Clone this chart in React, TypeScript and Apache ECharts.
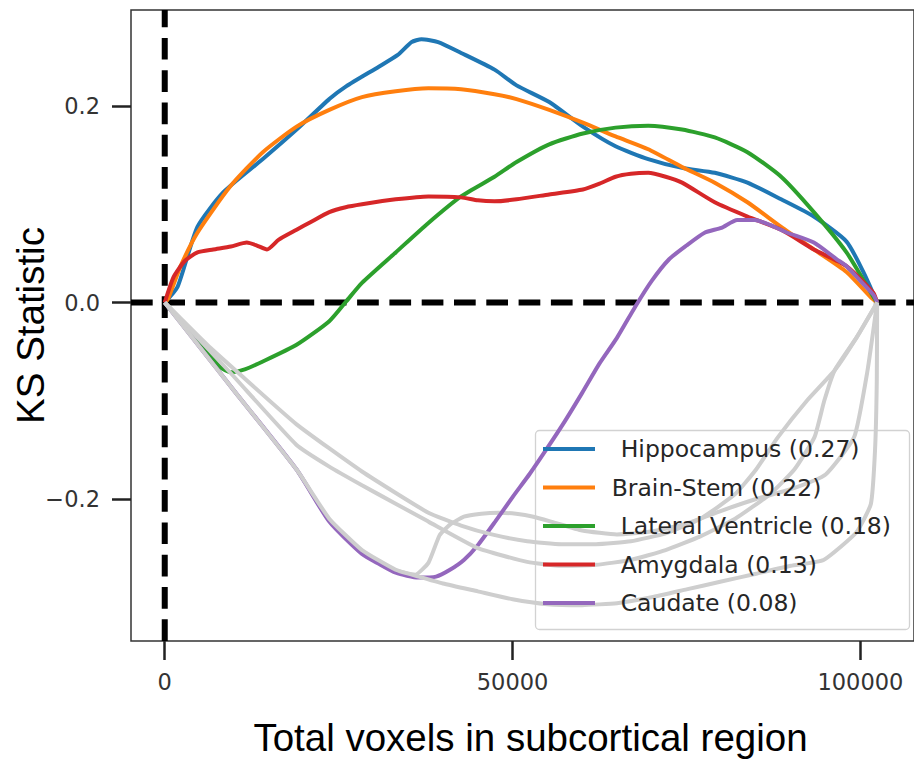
import React, { useEffect, useRef } from "react";
import * as echarts from "echarts";

// ---- data ----
const hippocampusX = [0, 1850, 4700, 8400, 14100, 18950, 23650, 26070, 30770, 33500, 35470, 36900, 39300, 42600, 47400, 50570, 55270, 60110, 64800, 69500, 74360, 79060, 83760, 88600, 93300, 98000, 100500, 102400];
const hippocampusY = [0, 0.016, 0.077, 0.112, 0.146, 0.176, 0.207, 0.22, 0.24, 0.252, 0.265, 0.268, 0.265, 0.254, 0.237, 0.221, 0.204, 0.179, 0.159, 0.146, 0.137, 0.132, 0.122, 0.105, 0.0875, 0.062, 0.03, 0];

const brainStemX = [0, 430, 2280, 4700, 9400, 14100, 18950, 23650, 28350, 33200, 37900, 42600, 47400, 50570, 55270, 60110, 64800, 69500, 74360, 79060, 83760, 88600, 93300, 98000, 101400, 102400];
const brainStemY = [0, 0.003, 0.037, 0.071, 0.118, 0.153, 0.179, 0.196, 0.209, 0.215, 0.218, 0.217, 0.212, 0.207, 0.196, 0.183, 0.169, 0.156, 0.138, 0.122, 0.102, 0.077, 0.054, 0.031, 0.006, 0];

const ventricleX = [0, 3000, 6100, 8000, 9400, 11500, 14100, 18950, 23650, 26070, 28350, 33200, 37900, 42600, 47400, 50570, 55270, 60110, 64800, 69500, 74360, 79060, 83760, 88600, 93300, 98000, 101850, 102400];
const ventricleY = [0, -0.025, -0.05, -0.066, -0.071, -0.068, -0.06, -0.043, -0.019, 0.001, 0.02, 0.051, 0.081, 0.108, 0.128, 0.143, 0.161, 0.172, 0.178, 0.18, 0.176, 0.168, 0.153, 0.128, 0.092, 0.051, 0.006, 0];

const amygdalaX = [0, 1280, 2850, 4700, 6980, 9500, 11800, 13250, 14700, 16400, 18950, 21000, 23650, 26000, 28350, 33200, 37900, 42600, 45000, 47400, 50570, 55270, 60110, 62500, 64800, 67000, 69500, 72000, 74360, 79060, 83760, 88600, 93300, 98000, 101850, 102400];
const amygdalaY = [0, 0.026, 0.042, 0.051, 0.054, 0.057, 0.061, 0.058, 0.054, 0.064, 0.074, 0.082, 0.092, 0.097, 0.1, 0.105, 0.108, 0.107, 0.104, 0.103, 0.105, 0.11, 0.115, 0.121, 0.128, 0.131, 0.132, 0.128, 0.122, 0.102, 0.0875, 0.074, 0.054, 0.037, 0.01, 0];

const caudateX = [0, 5000, 10000, 18950, 23650, 28350, 30770, 33200, 36470, 39000, 41000, 43000, 45000, 47500, 50000, 52500, 55000, 57500, 60000, 62500, 65000, 67650, 70000, 72500, 75000, 77600, 80000, 82300, 84800, 87000, 89500, 93300, 96600, 98000, 100000, 101850, 102400];
const caudateY = [0, -0.045, -0.09, -0.17, -0.223, -0.256, -0.266, -0.275, -0.28, -0.279, -0.272, -0.262, -0.247, -0.223, -0.198, -0.174, -0.148, -0.121, -0.092, -0.062, -0.036, -0.004, 0.022, 0.044, 0.058, 0.071, 0.076, 0.084, 0.084, 0.079, 0.071, 0.061, 0.044, 0.037, 0.022, 0.008, 0];

// grey null curves
const greyBumpX = [0, 10000, 18950, 23650, 28350, 30770, 33200, 36000, 37900, 39500, 41000, 43000, 45500, 48000, 50500, 53000, 56000, 60000, 65000, 70000, 75000, 80000, 85000, 90000, 95000, 99100, 101000, 102400];
const greyBumpY = [0, -0.09, -0.17, -0.222, -0.255, -0.265, -0.273, -0.277, -0.265, -0.237, -0.226, -0.218, -0.215, -0.214, -0.215, -0.218, -0.224, -0.232, -0.236, -0.233, -0.225, -0.212, -0.2, -0.19, -0.175, -0.137, -0.07, 0];

const greyTopX = [0, 6100, 10800, 18950, 28350, 37900, 42600, 47000, 52100, 57000, 62000, 67000, 72000, 77000, 82000, 85000, 88150, 92300, 96300, 99500, 102400];
const greyTopY = [0, -0.043, -0.073, -0.124, -0.172, -0.214, -0.227, -0.236, -0.243, -0.246, -0.246, -0.243, -0.235, -0.22, -0.195, -0.17, -0.137, -0.1, -0.069, -0.035, 0];

const greyMidX = [0, 9500, 18950, 23650, 28350, 33000, 37900, 45000, 52100, 57000, 62000, 67000, 72000, 77000, 82000, 87000, 90500, 93400, 94800, 96300, 99500, 102400];
const greyMidY = [0, -0.072, -0.145, -0.167, -0.186, -0.204, -0.223, -0.25, -0.264, -0.268, -0.267, -0.262, -0.252, -0.238, -0.22, -0.195, -0.17, -0.137, -0.1, -0.069, -0.035, 0];

const greyDeepX = [0, 10000, 18950, 23650, 28350, 33200, 36500, 40000, 45000, 50000, 55000, 60000, 65000, 70000, 75000, 80000, 85000, 90000, 94700, 99400, 101500, 102100, 102350, 102400];
const greyDeepY = [0, -0.09, -0.17, -0.22, -0.252, -0.272, -0.279, -0.286, -0.294, -0.302, -0.307, -0.308, -0.306, -0.3, -0.292, -0.284, -0.276, -0.268, -0.262, -0.234, -0.205, -0.15, -0.08, 0];

const regionNames = ["Hippocampus (0.27)", "Brain-Stem (0.22)", "Lateral Ventricle (0.18)", "Amygdala (0.13)", "Caudate (0.08)"];
const regionColors = ["#1f77b4", "#ff7f0e", "#2ca02c", "#d62728", "#9467bd"];

const xTicks = [0, 50000, 100000];
const yTicks = [-0.2, 0, 0.2];

const X_MIN = -4850;
const X_MAX = 107700;
const Y_MIN = -0.3445;
const Y_MAX = 0.2977;

const pairs = (xs: number[], ys: number[]) => xs.map((x, i) => [x, ys[i]]);

export default function App() {
  const ref = useRef<HTMLDivElement>(null);

  useEffect(() => {
    if (!ref.current) return;
    const chart = echarts.init(ref.current, undefined, { renderer: "svg" });

    const colored = [
      pairs(hippocampusX, hippocampusY),
      pairs(brainStemX, brainStemY),
      pairs(ventricleX, ventricleY),
      pairs(amygdalaX, amygdalaY),
      pairs(caudateX, caudateY),
    ];

    const lineSeries = (name: string, data: number[][], color: string) => ({
      name,
      type: "line",
      data,
      showSymbol: false,
      symbol: "none",
      smooth: 0.2,
      lineStyle: { color, width: 4 },
      itemStyle: { color },
      silent: true,
    });

    const greySeries = (name: string, data: number[][]) => ({
      name,
      type: "line",
      data,
      showSymbol: false,
      symbol: "none",
      smooth: 0.15,
      lineStyle: { color: "#cecece", width: 4 },
      silent: true,
    });

    const dashStyle = { color: "#000", width: 6, type: [21.7, 10.6] };

    const option: any = {
      animation: false,
      backgroundColor: "#fff",
      grid: {
        left: 131,
        top: 10,
        width: 789,
        height: 631,
        show: true,
        borderColor: "#333",
        borderWidth: 1.5,
        containLabel: false,
      },
      xAxis: {
        type: "value",
        min: X_MIN,
        max: X_MAX,
        position: "bottom",
        splitLine: { show: false },
        axisLine: { show: false, onZero: false },
        axisTick: {
          show: true,
          customValues: xTicks,
          length: 19,
          inside: false,
          lineStyle: { color: "#222", width: 2.5 },
        },
        axisLabel: {
          customValues: xTicks,
          margin: 29,
          fontFamily: "DejaVu Sans",
          fontSize: 22.5,
          color: "#333",
          formatter: (v: number) => String(v),
        },
      },
      yAxis: {
        type: "value",
        min: Y_MIN,
        max: Y_MAX,
        position: "left",
        splitLine: { show: false },
        axisLine: { show: false, onZero: false },
        axisTick: {
          show: true,
          customValues: yTicks,
          length: 19,
          inside: false,
          lineStyle: { color: "#222", width: 2.5 },
        },
        axisLabel: {
          customValues: yTicks,
          margin: 31,
          fontFamily: "DejaVu Sans",
          fontSize: 22.5,
          color: "#333",
          formatter: (v: number) => {
            if (Math.abs(v) < 1e-9) return "0.0";
            return (v < 0 ? "\u2212" : "") + Math.abs(v).toFixed(1);
          },
        },
      },
      legend: {
        show: true,
        orient: "vertical",
        left: 543,
        top: 435,
        padding: 0,
        itemWidth: 52,
        itemHeight: 4,
        itemGap: 10.5,
        icon: "rect",
        selectedMode: false,
        textStyle: {
          fontFamily: "DejaVu Sans",
          fontSize: 23.5,
          color: "#262626",
          lineHeight: 28,
        },
        data: regionNames.map((n, i) => ({
          name: n,
          textStyle: { padding: [0, 0, 0, i === 1 ? 11.7 : 20.7] },
        })),
      },
      graphic: [
        {
          type: "rect",
          z: 3,
          shape: { x: 535.5, y: 430.5, width: 374, height: 199, r: 4 },
          style: { fill: "rgba(255,255,255,0.8)", stroke: "#d2d2d2", lineWidth: 1.3 },
          silent: true,
        },
        {
          type: "text",
          x: 530.5,
          y: 737,
          style: {
            text: "Total voxels in subcortical region",
            fontFamily: "Liberation Sans",
            fontSize: 38.5,
            fill: "#000",
            align: "center",
            verticalAlign: "middle",
          },
        },
        {
          type: "text",
          x: 30,
          y: 325.5,
          rotation: Math.PI / 2,
          style: {
            text: "KS Statistic",
            fontFamily: "Liberation Sans",
            fontSize: 38.5,
            fill: "#000",
            align: "center",
            verticalAlign: "middle",
          },
        },
      ],
      series: [
        {
          name: "zero-y",
          type: "line",
          data: [[X_MIN, 0], [X_MAX, 0]],
          showSymbol: false,
          symbol: "none",
          lineStyle: dashStyle,
          silent: true,
        },
        {
          name: "zero-x",
          type: "line",
          data: [[0, Y_MIN], [0, Y_MAX]],
          showSymbol: false,
          symbol: "none",
          lineStyle: dashStyle,
          silent: true,
        },
        greySeries("grey-bump", pairs(greyBumpX, greyBumpY)),
        ...colored.map((d, i) => lineSeries(regionNames[i], d, regionColors[i])),
        greySeries("grey-top", pairs(greyTopX, greyTopY)),
        greySeries("grey-mid", pairs(greyMidX, greyMidY)),
        greySeries("grey-deep", pairs(greyDeepX, greyDeepY)),
      ],
    };

    chart.setOption(option);
    return () => chart.dispose();
  }, []);

  return (
    <div
      ref={ref}
      style={{ position: "fixed", left: 0, top: 0, width: 914, height: 759, background: "#fff" }}
    />
  );
}
